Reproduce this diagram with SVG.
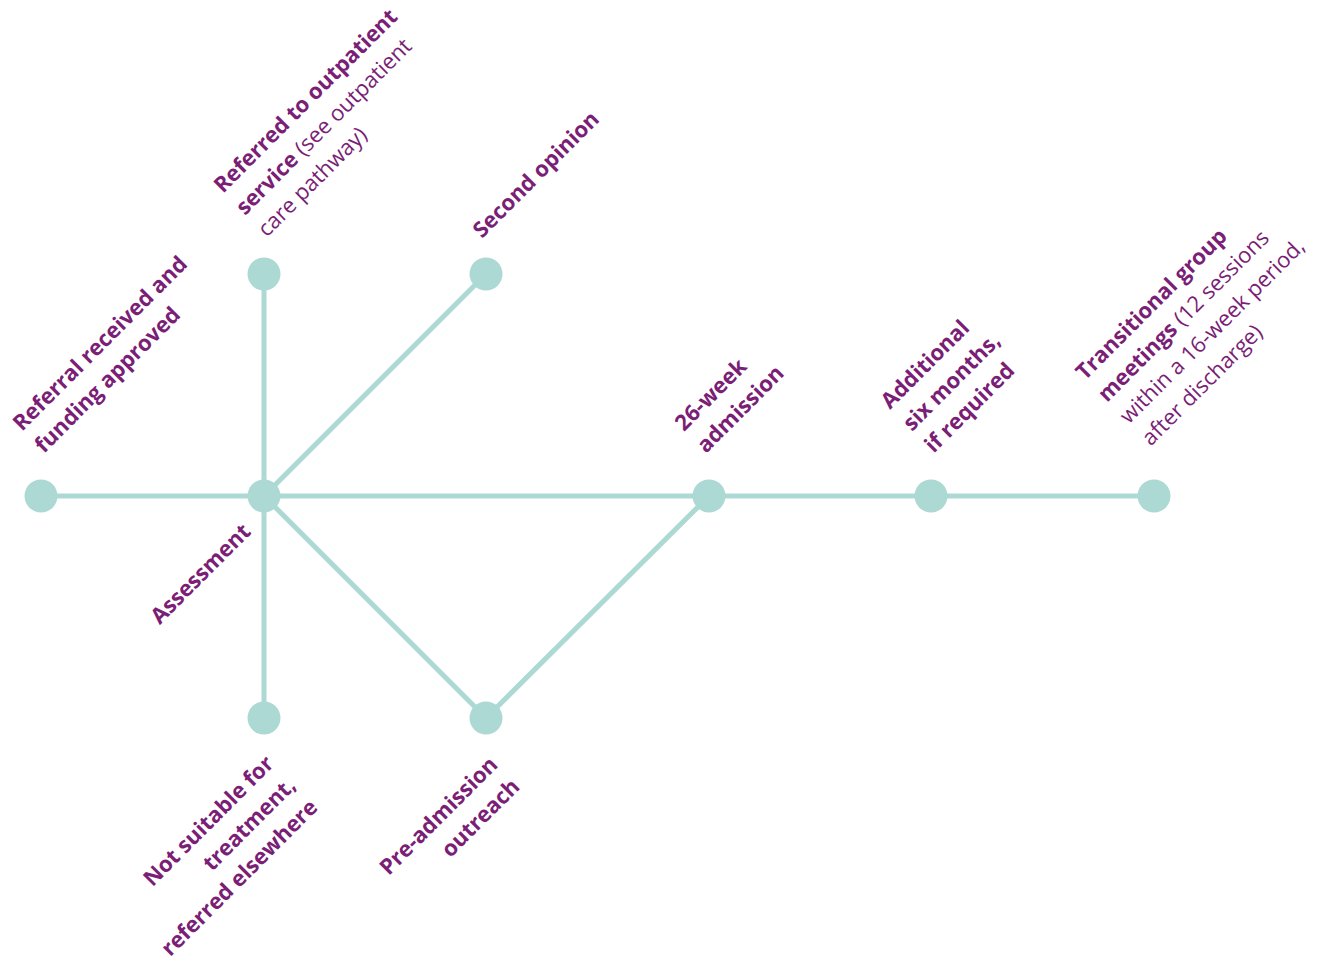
<svg xmlns="http://www.w3.org/2000/svg" width="1328" height="962" viewBox="0 0 1328 962">
<style>
.node{fill:#acd9d4}
.conn line{stroke:#acd9d4;stroke-width:5;fill:none}
text{font-family:"Open Sans","Liberation Sans",sans-serif;font-size:22px;fill:#7a1e76}
.b{font-weight:700}
.r{font-weight:400}
.e{text-anchor:end}
</style>
<rect width="1328" height="962" fill="#ffffff"/>
<g id="connectors" class="conn">
<line x1="41" y1="496" x2="264" y2="496"/>
<line x1="264" y1="496" x2="709" y2="496"/>
<line x1="709" y1="496" x2="931" y2="496"/>
<line x1="931" y1="496" x2="1154" y2="496"/>
<line x1="264" y1="496" x2="264" y2="274"/>
<line x1="264" y1="496" x2="486" y2="274"/>
<line x1="264" y1="496" x2="264" y2="718"/>
<line x1="264" y1="496" x2="486" y2="718"/>
<line x1="486" y1="718" x2="709" y2="496"/>
</g>
<g id="n-referral">
<circle class="node" cx="41" cy="496" r="16.5"/>
<text class="b" transform="translate(22,432) rotate(-45)"><tspan x="0" y="0">Referral received and</tspan><tspan x="0" y="31">funding approved</tspan></text>
</g>
<g id="n-assessment">
<circle class="node" cx="264" cy="496" r="16.5"/>
<text class="b e" transform="translate(252,533) rotate(-45)">Assessment</text>
</g>
<g id="n-outpatient">
<circle class="node" cx="264" cy="274" r="16.5"/>
<text transform="translate(223,194) rotate(-45)"><tspan class="b" x="0" y="0">Referred to outpatient</tspan><tspan class="b" x="0" y="31">service</tspan><tspan class="r"> (see outpatient</tspan><tspan class="r" x="0" y="62">care pathway)</tspan></text>
</g>
<g id="n-second">
<circle class="node" cx="486" cy="274" r="16.5"/>
<text class="b" transform="translate(482,239) rotate(-45)">Second opinion</text>
</g>
<g id="n-notsuitable">
<circle class="node" cx="264" cy="718" r="16.5"/>
<text class="b e" transform="translate(275,765) rotate(-45)"><tspan x="0" y="0">Not suitable for</tspan><tspan x="0" y="31">treatment,</tspan><tspan x="0" y="62">referred elsewhere</tspan></text>
</g>
<g id="n-preadmission">
<circle class="node" cx="486" cy="718" r="16.5"/>
<text class="b e" transform="translate(499,766) rotate(-45)"><tspan x="0" y="0">Pre-admission</tspan><tspan x="0" y="31">outreach</tspan></text>
</g>
<g id="n-admission">
<circle class="node" cx="709" cy="496" r="16.5"/>
<text class="b" transform="translate(684,432) rotate(-45)"><tspan x="0" y="0">26-week</tspan><tspan x="0" y="31">admission</tspan></text>
</g>
<g id="n-additional">
<circle class="node" cx="931" cy="496" r="16.5"/>
<text class="b" transform="translate(890,410) rotate(-45)"><tspan x="0" y="0">Additional</tspan><tspan x="0" y="31">six months,</tspan><tspan x="0" y="62">if required</tspan></text>
</g>
<g id="n-transitional">
<circle class="node" cx="1154" cy="496" r="16.5"/>
<text transform="translate(1085,381) rotate(-45)"><tspan class="b" x="0" y="0">Transitional group</tspan><tspan class="b" x="0" y="31">meetings</tspan><tspan class="r"> (12 sessions</tspan><tspan class="r" x="0" y="62">within a 16-week period,</tspan><tspan class="r" x="0" y="93">after discharge)</tspan></text>
</g>
</svg>
